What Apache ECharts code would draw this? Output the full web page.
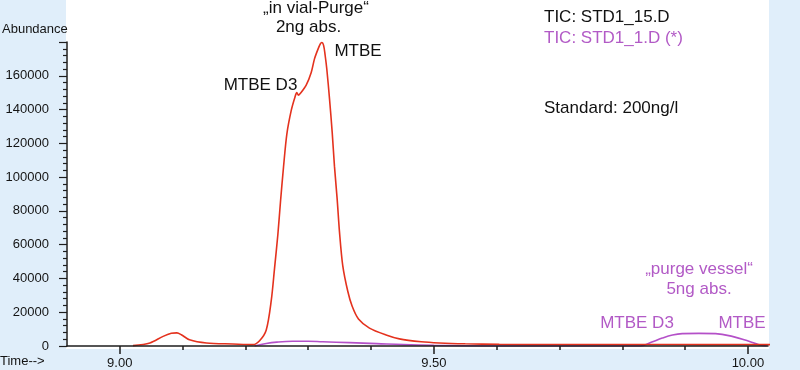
<!DOCTYPE html>
<html>
<head>
<meta charset="utf-8">
<script src="https://cdn.jsdelivr.net/npm/echarts@6/dist/echarts.min.js"></script>
<style>
  html, body { margin: 0; padding: 0; background: #e0eefa; }
  #chart { width: 800px; height: 370px; }
</style>
</head>
<body>
<div id="chart"></div>
<script>
// ---- data ----
const redTime = [9.021, 9.048, 9.069, 9.082, 9.091, 9.098, 9.111, 9.138, 9.180, 9.212, 9.2226, 9.2332, 9.2412, 9.2464, 9.2517, 9.2560, 9.2607, 9.2660, 9.2730, 9.2790, 9.2819, 9.2845, 9.2873, 9.2968, 9.3048, 9.3100, 9.3153, 9.3195, 9.3215, 9.3245, 9.3270, 9.3296, 9.3339, 9.3382, 9.3418, 9.3461, 9.3498, 9.3550, 9.3630, 9.3700, 9.3800, 9.3975, 9.4240, 9.4452, 9.4800, 9.5087, 9.5500, 9.6041, 9.7000, 9.8000, 9.9221, 10.000, 10.081];
const redAbund = [200, 1800, 5700, 7500, 7800, 6700, 3700, 1800, 1200, 800, 3100, 9500, 27000, 46000, 66000, 86000, 106000, 125500, 139500, 147500, 150000, 148500, 149500, 154500, 162000, 170000, 175500, 179000, 179700, 178000, 172000, 164000, 146500, 126500, 106500, 87000, 67600, 47600, 32400, 23500, 16000, 10600, 6500, 4200, 2500, 1800, 1300, 1000, 900, 900, 800, 800, 800];

const magTime = [9.2146, 9.2332, 9.2500, 9.2750, 9.3000, 9.3230, 9.3657, 9.4090, 9.4515, 9.5000, 9.6000, 9.7000, 9.8290, 9.8460, 9.8637, 9.8800, 9.8955, 9.9220, 9.9486, 9.9750, 10.0016, 10.0175, 10.0300];
const magAbund = [0, 1500, 2300, 2800, 2800, 2500, 2000, 1400, 800, 400, 0, 0, 0, 2200, 4700, 6500, 7300, 7450, 7300, 5700, 2800, 800, 0];

const xMajorTicks = [9.00, 9.50, 10.00];
const xMinorTicks = [9.1, 9.2, 9.3, 9.4, 9.6, 9.7, 9.8, 9.9];

const FONT = "'Liberation Sans', Arial, sans-serif";
const RED = '#e4321e';
const MAG = '#b450c8';
const MAGTXT = '#b25ac6';
const INK = '#141414';

const chart = echarts.init(document.getElementById('chart'), null, { renderer: 'canvas' });

const xBase = { type: 'value', min: 8.916, max: 10.032, position: 'bottom', splitLine: { show: false } };

chart.setOption({
  backgroundColor: 'transparent',
  animation: false,
  grid: { left: 67, right: 32, top: 42, bottom: 22 },
  xAxis: [
    Object.assign({}, xBase, {
      z: 3,
      axisLine: { show: true, lineStyle: { color: '#1e1e1e', width: 1.5 } },
      axisTick: { show: true, length: 8, customValues: xMajorTicks, lineStyle: { color: '#1e1e1e', width: 1.5 } },
      axisLabel: { show: true, customValues: xMajorTicks, margin: 11, color: INK, fontFamily: FONT, fontSize: 13,
        formatter: v => v.toFixed(2) }
    }),
    Object.assign({}, xBase, {
      z: 3,
      axisLine: { show: false },
      axisTick: { show: true, length: 4, customValues: xMinorTicks, lineStyle: { color: '#1e1e1e', width: 1.5 } },
      axisLabel: { show: false }
    })
  ],
  yAxis: {
    type: 'value', min: 0, max: 180000, interval: 20000,
    z: 3,
    splitLine: { show: false },
    axisLine: { show: true, lineStyle: { color: '#1e1e1e', width: 1.5 } },
    axisTick: { show: true, length: 8, lineStyle: { color: '#1e1e1e', width: 1.2 } },
    minorTick: { show: true, splitNumber: 5, length: 4, lineStyle: { color: '#1e1e1e', width: 1.2 } },
    axisLabel: { margin: 18, color: INK, fontFamily: FONT, fontSize: 13, showMaxLabel: false,
      formatter: v => String(v) }
  },
  graphic: [
    { type: 'rect', z: -10, silent: true, shape: { x: 66, y: 0, width: 703, height: 349 }, style: { fill: '#ffffff' } },
    { type: 'text', left: 2, top: 23, style: { text: 'Abundance', font: '13px ' + FONT, fill: INK } },
    { type: 'text', left: 0, top: 355, style: { text: 'Time-->', font: '13px ' + FONT, fill: INK } },
    { type: 'text', x: 316, y: 8, style: { text: '„in vial-Purge“', font: '17px ' + FONT, fill: '#111', align: 'center', verticalAlign: 'middle' } },
    { type: 'text', x: 308.5, y: 27, style: { text: '2ng abs.', font: '17px ' + FONT, fill: '#111', align: 'center', verticalAlign: 'middle' } },
    { type: 'text', x: 358, y: 51.5, style: { text: 'MTBE', font: '17px ' + FONT, fill: '#111', align: 'center', verticalAlign: 'middle' } },
    { type: 'text', x: 260.5, y: 85, style: { text: 'MTBE D3', font: '17px ' + FONT, fill: '#111', align: 'center', verticalAlign: 'middle' } },
    { type: 'text', x: 544, y: 17.5, style: { text: 'TIC: STD1_15.D', font: '17px ' + FONT, fill: '#111', align: 'left', verticalAlign: 'middle' } },
    { type: 'text', x: 544, y: 38, style: { text: 'TIC: STD1_1.D (*)', font: '17px ' + FONT, fill: MAGTXT, align: 'left', verticalAlign: 'middle' } },
    { type: 'text', x: 544, y: 108.5, style: { text: 'Standard: 200ng/l', font: '17px ' + FONT, fill: '#111', align: 'left', verticalAlign: 'middle' } },
    { type: 'text', x: 699, y: 269.5, style: { text: '„purge vessel“', font: '17px ' + FONT, fill: MAGTXT, align: 'center', verticalAlign: 'middle' } },
    { type: 'text', x: 699, y: 289.5, style: { text: '5ng abs.', font: '17px ' + FONT, fill: MAGTXT, align: 'center', verticalAlign: 'middle' } },
    { type: 'text', x: 637, y: 323, style: { text: 'MTBE D3', font: '17px ' + FONT, fill: MAGTXT, align: 'center', verticalAlign: 'middle' } },
    { type: 'text', x: 742, y: 323, style: { text: 'MTBE', font: '17px ' + FONT, fill: MAGTXT, align: 'center', verticalAlign: 'middle' } }
  ],
  series: [
    {
      name: 'TIC: STD1_1.D (*)', type: 'line', xAxisIndex: 0, yAxisIndex: 0,
      data: magTime.map((t, i) => [t, magAbund[i]]),
      showSymbol: false, smooth: 0.4, z: 2,
      lineStyle: { color: MAG, width: 1.6 }
    },
    {
      name: 'TIC: STD1_15.D', type: 'line', xAxisIndex: 0, yAxisIndex: 0,
      data: redTime.map((t, i) => [t, redAbund[i]]),
      showSymbol: false, smooth: 0.3, clip: false, z: 2,
      lineStyle: { color: RED, width: 1.6 }
    }
  ]
});
</script>
</body>
</html>
